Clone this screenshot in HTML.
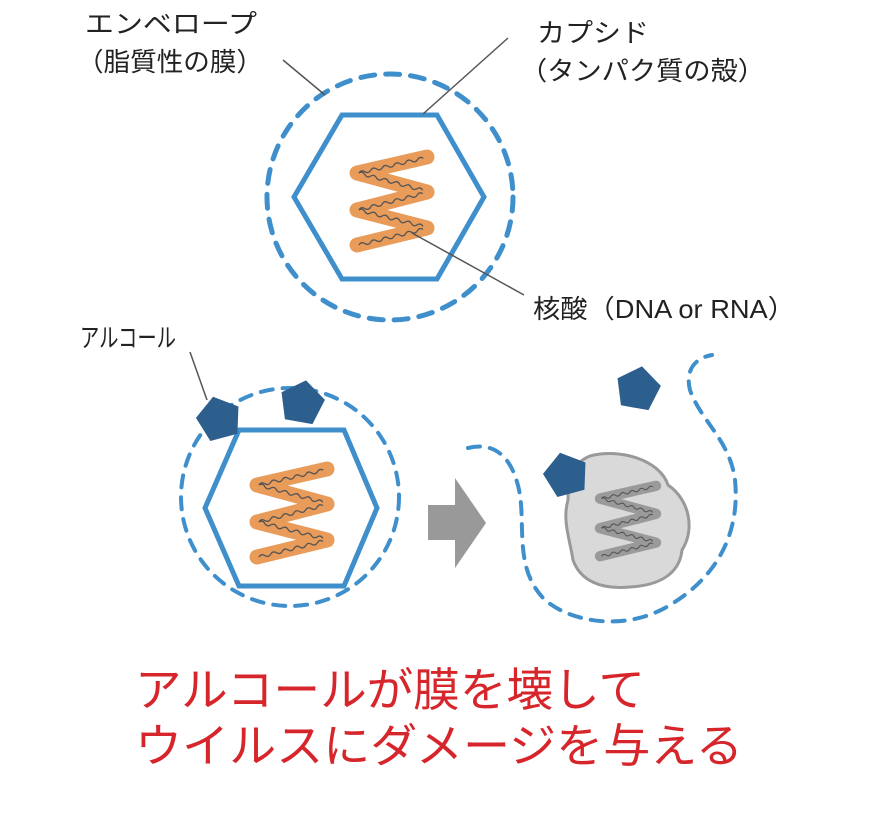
<!DOCTYPE html>
<html><head><meta charset="utf-8"><style>
html,body{margin:0;padding:0;background:#fff;}
svg{display:block;}
text{font-family:"Liberation Sans","Noto Sans CJK JP",sans-serif;}
</style></head><body>
<svg width="871" height="813" viewBox="0 0 871 813" xmlns="http://www.w3.org/2000/svg">
<defs>
<path id="wave" d="M0,0 q3,-3 6,0 t6,0 t6,0 t6,0 t6,0 t6,0 t6,0 t6,0 t6,0 t6,0 t6,0" fill="none" stroke="#555" stroke-width="1.3"/>
<g id="waves">
<use href="#wave" transform="translate(-33,-28) rotate(-12.9)"/>
<use href="#wave" transform="translate(-33,-28) rotate(15.2)"/>
<use href="#wave" transform="translate(-33,9) rotate(-14.4)"/>
<use href="#wave" transform="translate(-33,9) rotate(14.4)"/>
<use href="#wave" transform="translate(-33,44) rotate(-13.7)"/>
</g>
<g id="zz">
<polyline points="35,-44 -35,-28 35,-9 -35,9 35,27 -35,44" fill="none" stroke="#e58a3c" stroke-opacity="0.85" stroke-width="15" stroke-linecap="round" stroke-linejoin="round"/>
<use href="#waves"/>
</g>
<polygon id="pent" points="0,-23 22,-7 14,19 -14,19 -22,-7" fill="#2d5f8e"/>
</defs>

<circle cx="390" cy="197" r="123" fill="none" stroke="#3f8fcc" stroke-width="5" stroke-dasharray="14 11" stroke-linecap="round"/>
<polygon points="342,115 437,115 484,197 437,279 342,279 294,197" fill="none" stroke="#3f8fcc" stroke-width="5"/>
<use href="#zz" x="392" y="201"/>

<g stroke="#555" stroke-width="1.5">
<line x1="283" y1="60" x2="325" y2="95"/>
<line x1="508" y1="38" x2="423" y2="114"/>
<line x1="412" y1="233" x2="524" y2="295"/>
<line x1="190" y1="352" x2="207" y2="400"/>
</g>

<circle cx="290" cy="497" r="109" fill="none" stroke="#3f8fcc" stroke-width="4" stroke-dasharray="12 10" stroke-linecap="round"/>
<polygon points="239,430 344,430 377,508 344,586 239,586 205,508" fill="none" stroke="#3f8fcc" stroke-width="5"/>
<use href="#zz" x="292" y="513"/>
<use href="#pent" x="219" y="419" transform="rotate(-15 219 419)"/>
<use href="#pent" x="302" y="403" transform="rotate(10 302 403)"/>

<polygon points="428,505 455,505 455,478 486,523 455,568 455,540 428,540" fill="#999"/>

<path d="M468,448 C500,440 515,465 520,495 C525,530 515,570 545,600 C575,625 630,630 670,605 C720,575 740,530 735,480 C730,440 700,420 690,390 C685,370 695,358 712,355" fill="none" stroke="#3f8fcc" stroke-width="4" stroke-dasharray="12 10" stroke-linecap="round"/>
<path d="M590,456 C620,448 660,460 668,485 C690,500 695,530 682,550 C680,570 665,585 630,587 C600,590 580,580 573,560 C570,540 562,520 568,500 C568,475 575,462 590,456 Z" fill="#d9d9d9" stroke="#999" stroke-width="3"/>
<g transform="translate(628,521) scale(0.8)">
<polyline points="35,-44 -35,-28 35,-9 -35,9 35,27 -35,44" fill="none" stroke="#9a9a9a" stroke-width="13" stroke-linecap="round" stroke-linejoin="round"/>
<use href="#waves"/>
</g>
<use href="#pent" x="638" y="389" transform="rotate(10 638 389)"/>
<use href="#pent" x="566" y="475" transform="rotate(-15 566 475)"/>

<g fill="#222" font-size="26">
<text x="85" y="33" textLength="172" lengthAdjust="spacingAndGlyphs">エンベロープ</text>
<text x="77" y="71" textLength="186" lengthAdjust="spacingAndGlyphs">（脂質性の膜）</text>
<text x="537" y="42" textLength="112" lengthAdjust="spacingAndGlyphs">カプシド</text>
<text x="520" y="80" textLength="245" lengthAdjust="spacingAndGlyphs">（タンパク質の殻）</text>
<text x="533" y="318" textLength="262" lengthAdjust="spacingAndGlyphs">核酸（DNA or RNA）</text>
<text x="80" y="347" textLength="96" lengthAdjust="spacingAndGlyphs">アルコール</text>
</g>
<g fill="#d7262b" font-size="46">
<text x="135" y="706" textLength="510" lengthAdjust="spacingAndGlyphs">アルコールが膜を壊して</text>
<text x="135" y="762" textLength="608" lengthAdjust="spacingAndGlyphs">ウイルスにダメージを与える</text>
</g>
</svg>
</body></html>
